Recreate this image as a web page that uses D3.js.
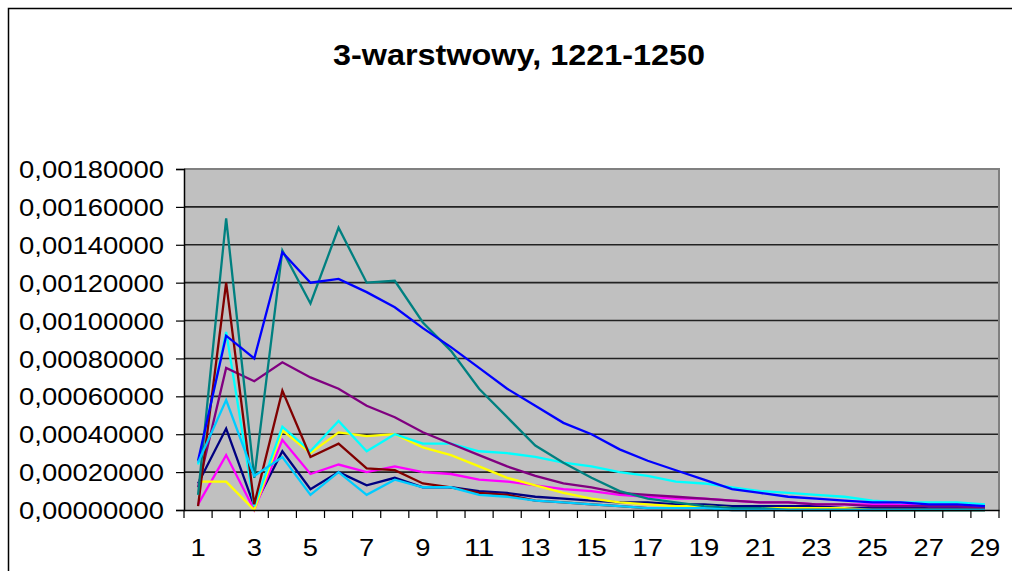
<!DOCTYPE html>
<html><head><meta charset="utf-8">
<script src="https://cdn.jsdelivr.net/npm/d3@7"></script>
<style>html,body{margin:0;padding:0;background:#fff;overflow:hidden}</style>
</head><body>
<svg id="chart" width="1012" height="571"></svg>
<script>
const title = "3-warstwowy, 1221-1250";
const categories = d3.range(1, 30);
const xTickLabels = [1,3,5,7,9,11,13,15,17,19,21,23,25,27,29];
const yTicks = [0,0.0002,0.0004,0.0006,0.0008,0.001,0.0012,0.0014,0.0016,0.0018];

const navy    = [0.00014,0.00043,0.00002,0.00031,0.00011,0.00020,0.00013,0.00017,0.00012,0.00012,0.00010,0.00009,0.00007,0.00006,0.00005,0.00004,0.00004,0.00003,0.00003,0.00002,0.00002,0.00002,0.00002,0.00001,0.00001,0.00001,0.00001,0.00001,0.00001];
const magenta = [0.00003,0.00029,0.00000,0.00037,0.00019,0.00024,0.00020,0.00023,0.00020,0.00019,0.00016,0.00015,0.00013,0.00011,0.00010,0.00008,0.00007,0.00006,0.00006,0.00005,0.00004,0.00004,0.00003,0.00003,0.00003,0.00003,0.00002,0.00002,0.00002];
const yellow  = [0.00015,0.00015,0.00000,0.00042,0.00030,0.00041,0.00039,0.00040,0.00033,0.00029,0.00023,0.00017,0.00013,0.00009,0.00006,0.00004,0.00003,0.00002,0.00002,0.00001,0.00001,0.00001,0.00001,0.00001,0.00000,0.00000,0.00000,0.00000,0.00000];
const cyan    = [0.00024,0.00094,0.00002,0.00044,0.00031,0.00047,0.00031,0.00040,0.00035,0.00035,0.00031,0.00030,0.00028,0.00025,0.00023,0.00020,0.00018,0.00015,0.00014,0.00012,0.00010,0.00009,0.00008,0.00007,0.00005,0.00004,0.00004,0.00004,0.00003];
const purple  = [0.00012,0.00075,0.00068,0.00078,0.00070,0.00064,0.00055,0.00049,0.00041,0.00035,0.00029,0.00023,0.00018,0.00014,0.00012,0.00009,0.00008,0.00007,0.00006,0.00005,0.00004,0.00004,0.00003,0.00003,0.00002,0.00002,0.00002,0.00002,0.00001];
const darkred = [0.00002,0.00120,0.00003,0.00063,0.00028,0.00035,0.00022,0.00021,0.00014,0.00012,0.00009,0.00008,0.00005,0.00004,0.00003,0.00002,0.00001,0.00001,0.00001,0.00000,0.00000,0.00000,0.00000,0.00000,0.00000,0.00000,0.00000,0.00000,0.00000];
const teal    = [0.00008,0.00154,0.00017,0.00137,0.00109,0.00149,0.00120,0.00121,0.00099,0.00084,0.00064,0.00049,0.00034,0.00025,0.00017,0.00010,0.00006,0.00004,0.00002,0.00001,0.00001,0.00000,0.00000,0.00000,0.00000,0.00000,0.00000,0.00000,0.00000];
const blue    = [0.00026,0.00092,0.00080,0.00136,0.00120,0.00122,0.00115,0.00107,0.00096,0.00086,0.00075,0.00064,0.00055,0.00046,0.00040,0.00032,0.00026,0.00021,0.00016,0.00011,0.00009,0.00007,0.00006,0.00005,0.00004,0.00004,0.00003,0.00003,0.00002];
const skyblue = [0.00025,0.00058,0.00018,0.00028,0.00008,0.00020,0.00008,0.00016,0.00012,0.00012,0.00008,0.00007,0.00005,0.00004,0.00003,0.00002,0.00001,0.00001,0.00001,0.00000,0.00000,0.00000,0.00000,0.00000,0.00000,0.00000,0.00000,0.00000,0.00000];

const series = [
  {values: navy, color: "#000080"},
  {values: magenta, color: "#FF00FF"},
  {values: yellow, color: "#FFFF00"},
  {values: cyan, color: "#00FFFF"},
  {values: purple, color: "#800080"},
  {values: darkred, color: "#800000"},
  {values: teal, color: "#008080"},
  {values: blue, color: "#0000FF"},
  {values: skyblue, color: "#00CCFF"}
];

const svg = d3.select("#chart");
const L = 184, R = 999, T = 169, B = 510;
const font = "Arial, 'Liberation Sans', sans-serif";

// outer frame
svg.append("rect").attr("x", 8.5).attr("y", 8.5).attr("width", 1100).attr("height", 700)
  .attr("fill", "#fff").attr("stroke", "#000").attr("stroke-width", 1.5);

// title
svg.append("text").attr("x", 519).attr("y", 65).attr("text-anchor", "middle")
  .attr("font-family", font).attr("font-weight", "bold").attr("font-size", 30)
  .attr("textLength", 372).attr("lengthAdjust", "spacingAndGlyphs")
  .text(title);

const x = d3.scaleBand().domain(categories).range([L, R]).padding(0);
const y = d3.scaleLinear().domain([0, 0.0018]).range([B, T]);

// plot bg
svg.append("rect").attr("x", L).attr("y", T).attr("width", R - L).attr("height", B - T).attr("fill", "#C0C0C0");

// gridlines
svg.append("g").selectAll("line").data(yTicks.filter(d => d > 0 && d < 0.0018)).join("line")
  .attr("x1", L).attr("x2", R).attr("y1", d => y(d)).attr("y2", d => y(d))
  .attr("stroke", "#222").attr("stroke-width", 1.6);

// plot border top/right gray
svg.append("path").attr("d", `M${L},${T}H${R}V${B}`).attr("fill", "none")
  .attr("stroke", "#808080").attr("stroke-width", 2);

// lines
const line = d3.line().x((d, i) => x(categories[i]) + x.bandwidth() / 2).y(d => y(d));
svg.append("g").selectAll("path").data(series).join("path")
  .attr("d", d => line(d.values)).attr("fill", "none")
  .attr("stroke", d => d.color).attr("stroke-width", 2.3).attr("stroke-linejoin", "miter");

// y axis
const fmt = d3.format(".8f");
const yAxis = d3.axisLeft(y).tickValues(yTicks).tickSize(8).tickPadding(12)
  .tickFormat(d => fmt(d).replace(".", ","));
const gy = svg.append("g").attr("transform", `translate(${L},0)`).call(yAxis);
gy.select(".domain").attr("stroke", "#000").attr("stroke-width", 1.5);
gy.selectAll(".tick line").attr("stroke", "#000").attr("stroke-width", 1.2);
gy.selectAll("text").attr("font-family", font).attr("font-size", 24).attr("fill", "#000")
  .attr("textLength", 145).attr("lengthAdjust", "spacingAndGlyphs").attr("dy", "0.36em");

// x axis
const xAxis = d3.axisBottom(x).tickSize(0).tickPadding(29)
  .tickFormat(d => xTickLabels.includes(d) ? d : "");
const gx = svg.append("g").attr("transform", `translate(0,${B})`).call(xAxis);
gx.select(".domain").attr("stroke", "#000").attr("stroke-width", 1.5);
gx.selectAll("text").attr("font-family", font).attr("font-size", 24).attr("fill", "#000");
gx.selectAll(".tick text").each(function() {
  const t = d3.select(this);
  const n = t.text();
  if (n) t.attr("textLength", n.length * 15.2).attr("lengthAdjust", "spacingAndGlyphs");
});
// boundary ticks
svg.append("g").selectAll("line").data(d3.range(categories.length + 1)).join("line")
  .attr("x1", i => L + i * x.step()).attr("x2", i => L + i * x.step())
  .attr("y1", B).attr("y2", B + 8).attr("stroke", "#000").attr("stroke-width", 1.2);
</script>
</body></html>
